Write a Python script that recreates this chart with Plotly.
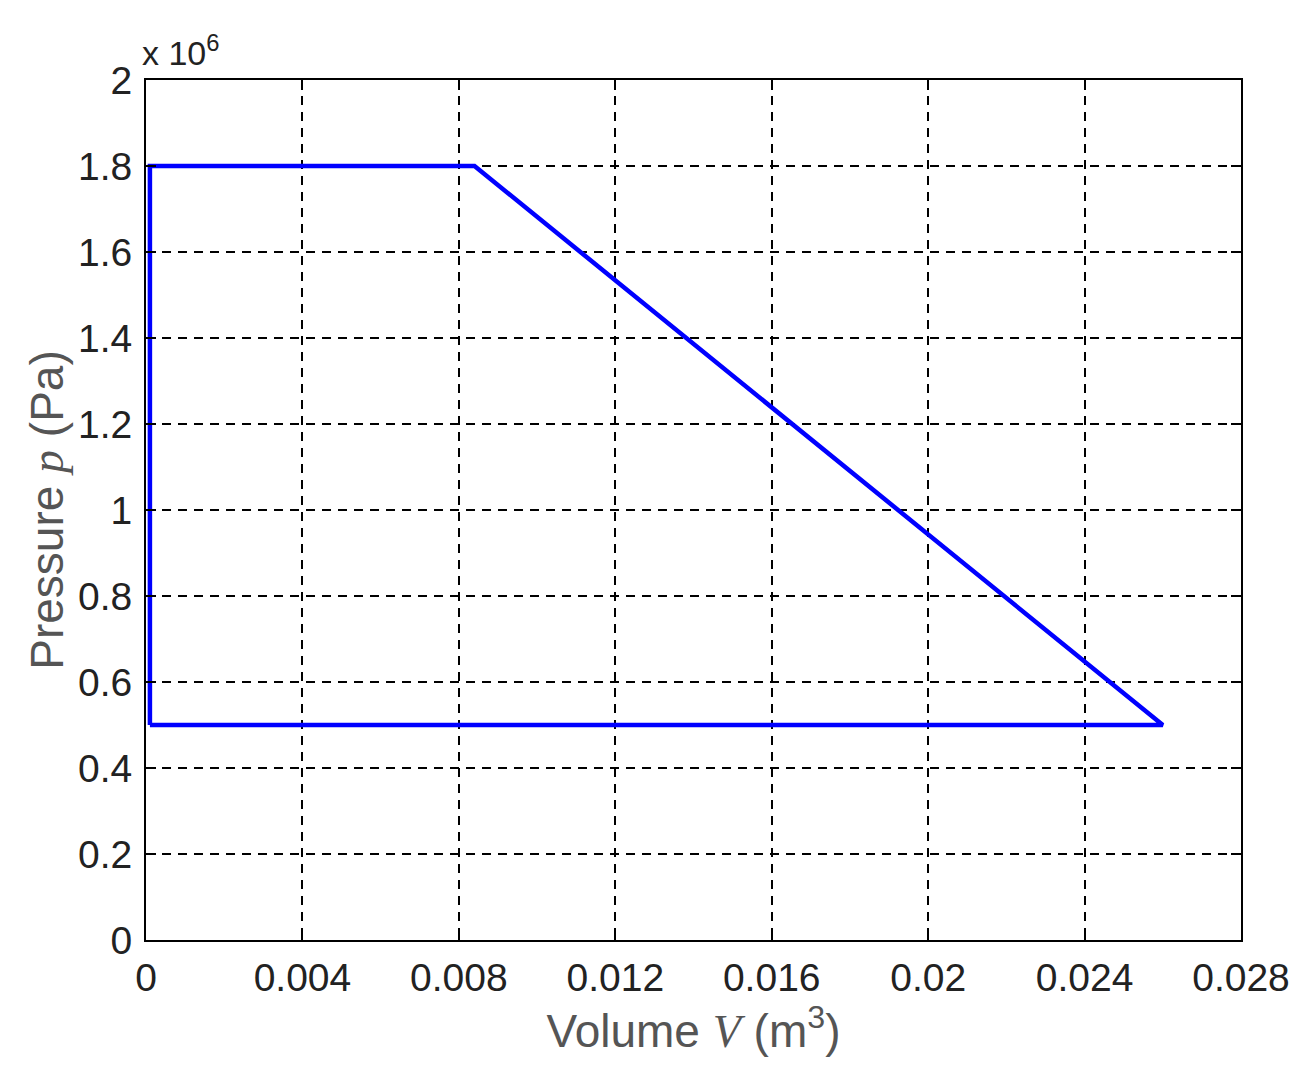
import plotly.graph_objects as go

# Cycle data (volume in m^3, pressure in Pa)
volume = [0.0001, 0.0001, 0.0084, 0.0260, 0.0001]
pressure = [0.5e6, 1.8e6, 1.8e6, 0.5e6, 0.5e6]

x_tick_vals = [0, 0.004, 0.008, 0.012, 0.016, 0.020, 0.024, 0.028]
x_tick_text = ["0", "0.004", "0.008", "0.012", "0.016", "0.02", "0.024", "0.028"]
y_tick_vals = [0, 0.2e6, 0.4e6, 0.6e6, 0.8e6, 1.0e6, 1.2e6, 1.4e6, 1.6e6, 1.8e6, 2.0e6]
y_tick_text = ["0", "0.2", "0.4", "0.6", "0.8", "1", "1.2", "1.4", "1.6", "1.8", "2"]

fig = go.Figure()
fig.add_trace(go.Scatter(
    x=volume, y=pressure, mode="lines",
    line=dict(color="#0000FF", width=4.5),
    showlegend=False,
))

axis_common = dict(
    showline=True, linecolor="black", linewidth=2, mirror="ticks",
    ticks="inside", ticklen=10, tickwidth=2, tickcolor="black",
    showgrid=True, gridcolor="black", gridwidth=2, griddash="9px,7px",
    zeroline=False,
    tickfont=dict(family="Liberation Sans, Arial", size=39, color="#222222"),
)

fig.update_xaxes(
    range=[0, 0.028], tickvals=x_tick_vals, ticktext=x_tick_text,
    ticklabelstandoff=2,
    title=dict(text="Volume <i><span style=\"font-family:'Liberation Serif'\">V</span></i> (m<sup>3</sup>)",
               font=dict(family="Liberation Sans, Arial", size=46, color="#555555"),
               standoff=10),
    **axis_common,
)
fig.update_yaxes(
    range=[0, 2.0e6], tickvals=y_tick_vals, ticktext=y_tick_text,
    ticklabelstandoff=4,
    title=dict(text="Pressure <i><span style=\"font-family:'Liberation Serif'\">p</span></i> (Pa)",
               font=dict(family="Liberation Sans, Arial", size=46, color="#555555"),
               standoff=0),
    **axis_common,
)

fig.add_annotation(
    text="x 10<sup>6</sup>", xref="paper", yref="paper", x=0.0, y=1.0,
    xanchor="left", yanchor="bottom", yshift=6, xshift=-6, showarrow=False,
    font=dict(family="Liberation Sans, Arial", size=34, color="#222222"),
)

fig.update_layout(
    width=1296, height=1058,
    margin=dict(l=138, r=63, t=72, b=126),
    plot_bgcolor="white", paper_bgcolor="white",
)

fig.write_html("out.html")
